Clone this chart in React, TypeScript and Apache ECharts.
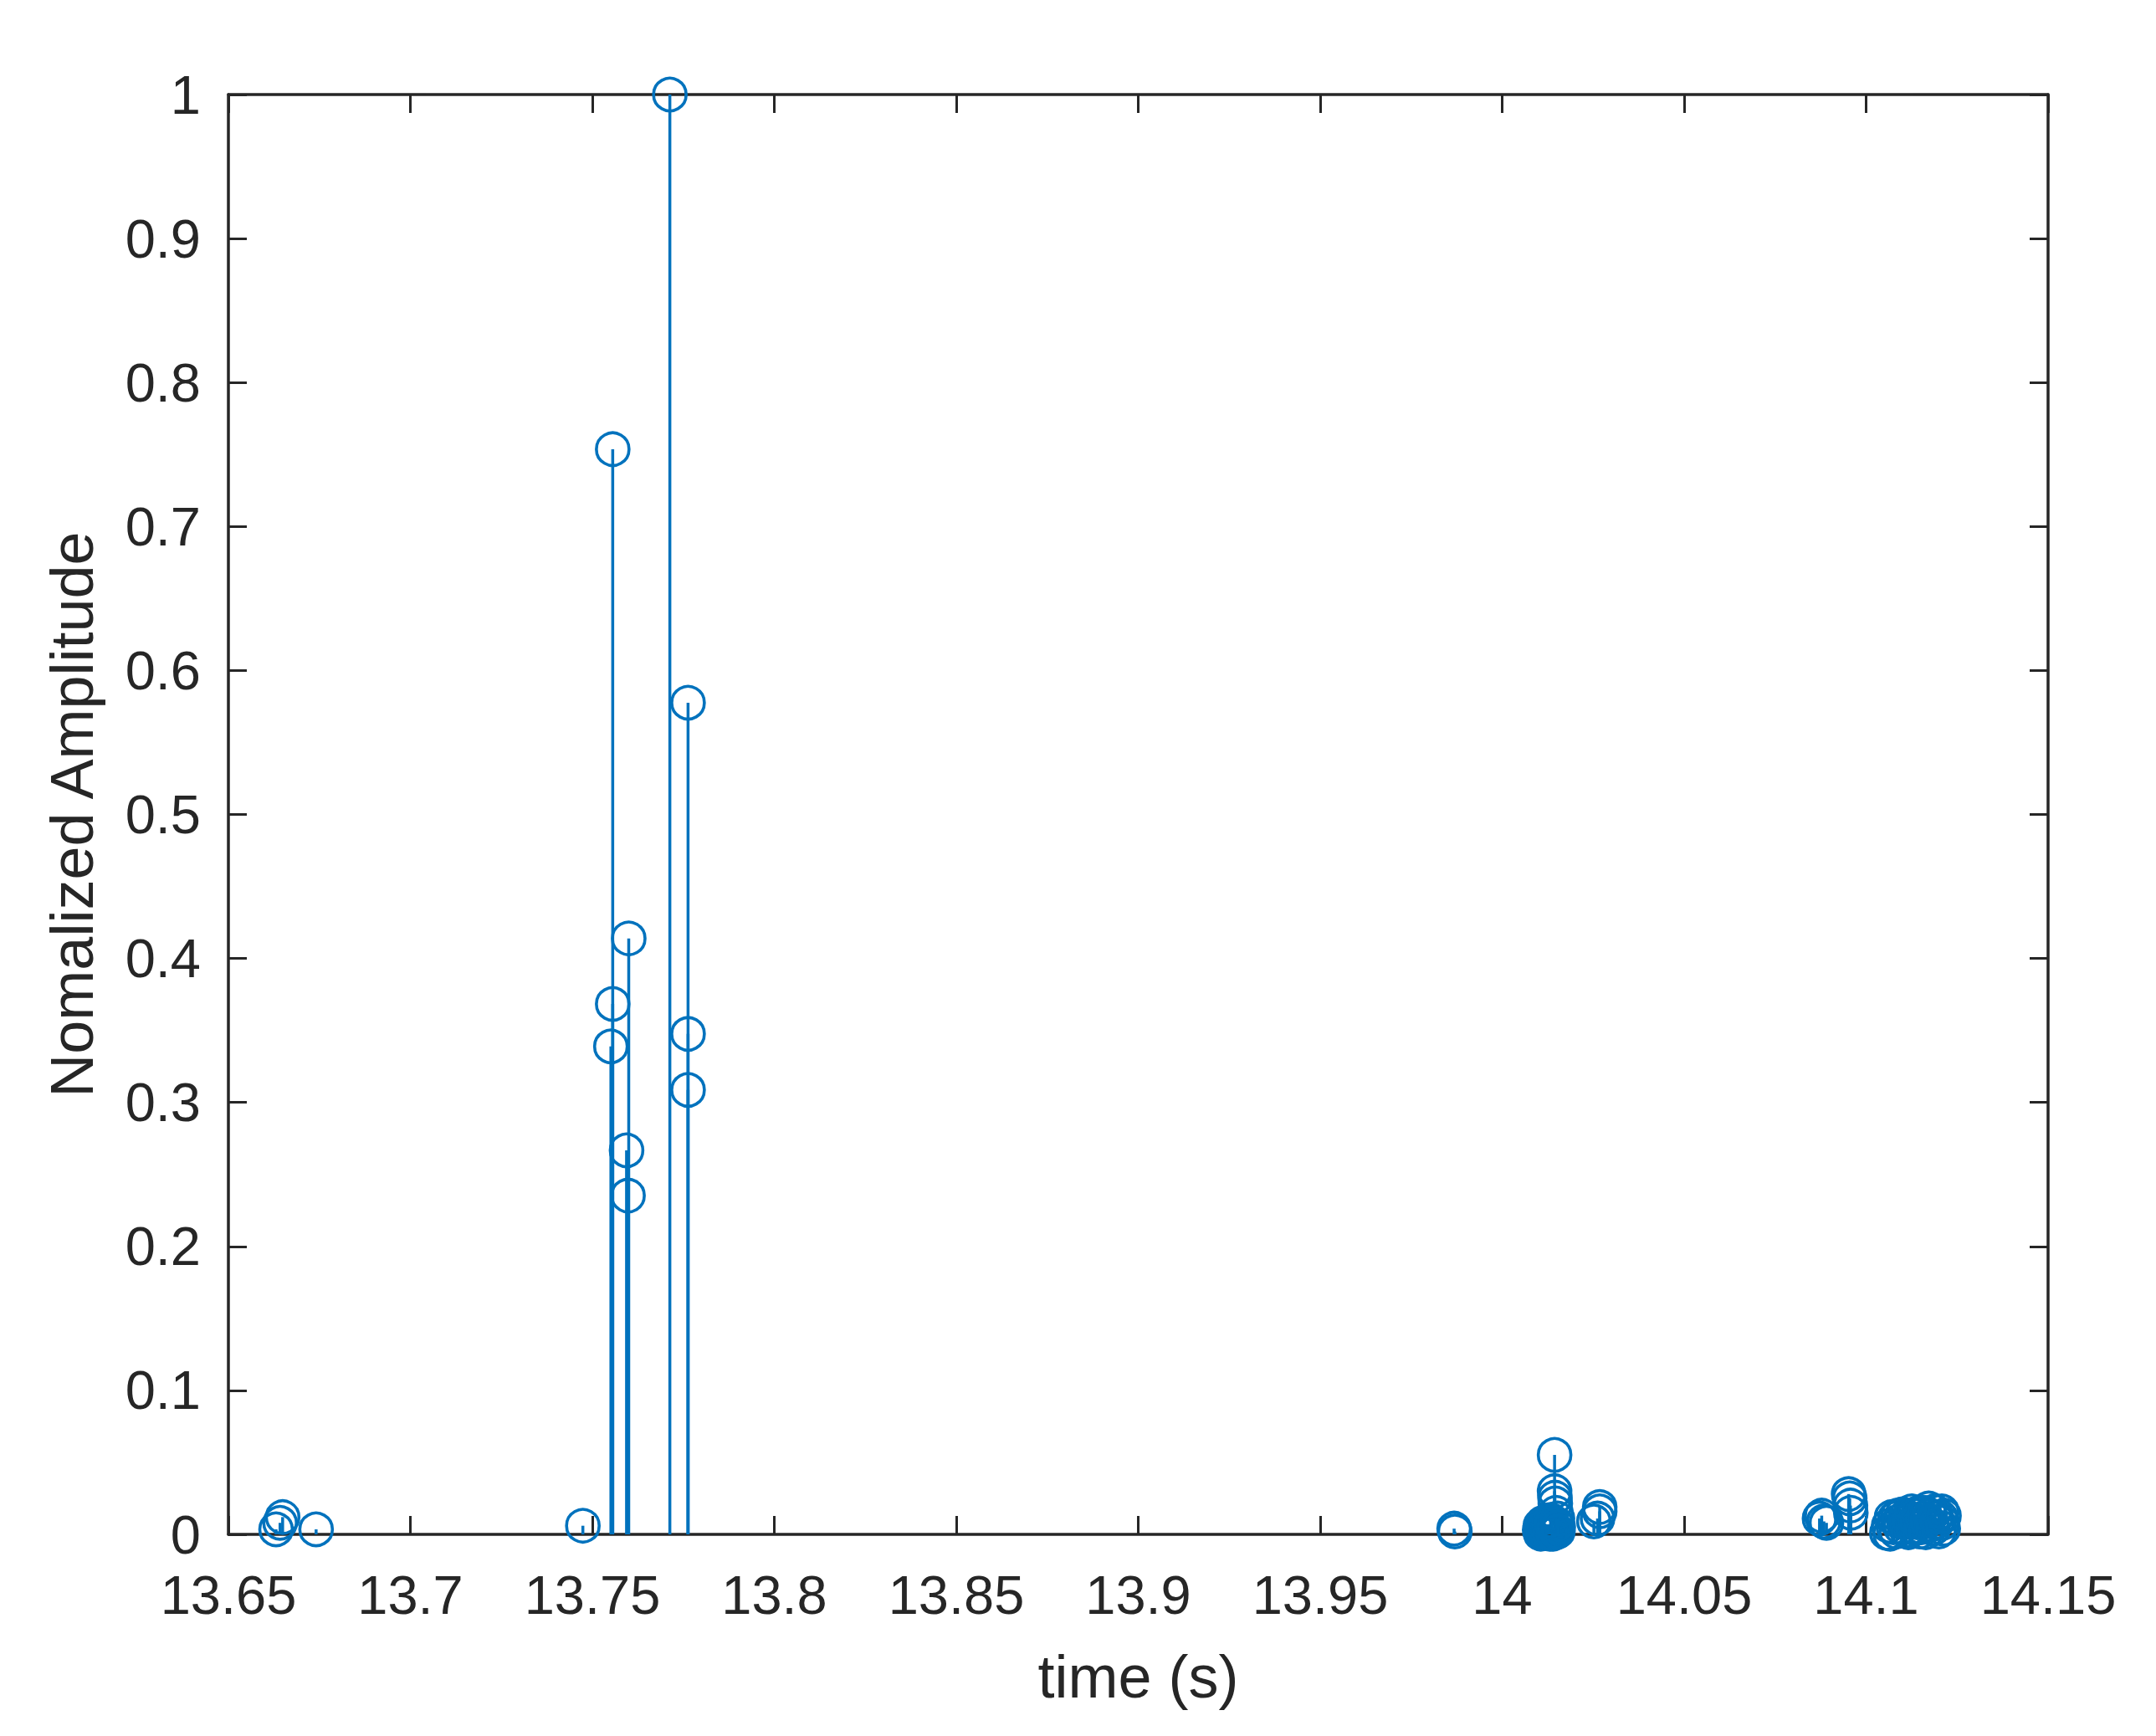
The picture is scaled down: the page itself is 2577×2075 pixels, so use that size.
import React, { useEffect, useRef } from "react";
import * as echarts from "echarts";

// Stem data: time (s) and normalized amplitude
const times: number[] = [
  13.6631, 13.6642, 13.6649, 13.6741,
  13.7474,
  13.7551, 13.7556, 13.7594, 13.7598, 13.76, 13.7556,
  13.7713, 13.7763, 13.7763, 13.7763,
  13.9868, 13.987,
  14.0103, 14.0105, 14.0106, 14.0108, 14.011, 14.0112, 14.0113, 14.0116, 14.0118, 14.0119,
  14.0121, 14.0122, 14.0124, 14.0126, 14.0128, 14.0129, 14.0131, 14.0133, 14.0134, 14.0136,
  14.0137, 14.0139, 14.014, 14.0142,
  14.0144, 14.0144, 14.0145, 14.0146, 14.0148, 14.0149, 14.0151, 14.0152, 14.0153, 14.0154,
  14.0252, 14.0262, 14.0268, 14.0268,
  14.0872, 14.0878, 14.0884, 14.0891,
  14.0952, 14.0955, 14.0957, 14.0958,
  14.1057, 14.1062, 14.1066, 14.107, 14.1075, 14.1079, 14.1083, 14.1087, 14.109, 14.1095,
  14.11, 14.1104, 14.1108, 14.1112, 14.1116, 14.112, 14.1125, 14.1129, 14.1132, 14.1135,
  14.114, 14.1144, 14.1148, 14.1152, 14.1156, 14.116, 14.1164, 14.1168, 14.1172, 14.1176,
  14.118, 14.1184, 14.1188, 14.1192, 14.1196, 14.12, 14.1204, 14.1208, 14.121, 14.1212, 14.1214,
];
const amps: number[] = [
  0.0035, 0.008, 0.012, 0.0035,
  0.006,
  0.3389, 0.3684, 0.2667, 0.2353, 0.4139, 0.7537,
  1.0, 0.5776, 0.3476, 0.3087,
  0.004, 0.002,
  0.003, 0.006, 0.0005, 0.002, 0.005, 0.008, 0.001, 0.006, 0.004, 0.0015,
  0.007, 0.001, 0.004, 0.002, 0.007, 0.0045, 0.0005, 0.01, 0.006, 0.003,
  0.008, 0.002, 0.0005, 0.004,
  0.0552, 0.03, 0.0255, 0.0215, 0.015, 0.0015, 0.007, 0.011, 0.002, 0.005,
  0.009, 0.011, 0.016, 0.019,
  0.011, 0.013, 0.009, 0.008,
  0.028, 0.025, 0.02, 0.015,
  0.001, 0.006, 0.0005, 0.012, 0.005, 0.011, 0.002, 0.013, 0.009, 0.005,
  0.014, 0.0085, 0.012, 0.003, 0.0015, 0.0095, 0.016, 0.005, 0.013, 0.01,
  0.0085, 0.015, 0.002, 0.005, 0.011, 0.015, 0.0015, 0.0095, 0.018, 0.013,
  0.007, 0.004, 0.016, 0.012, 0.009, 0.002, 0.012, 0.016, 0.008, 0.004, 0.013,
];

const xMin = 13.65;
const xMax = 14.15;
const xStep = 0.05;
const yMin = 0;
const yMax = 1;
const yStep = 0.1;

const xTitle = "time (s)";
const yTitle = "Nomalized Amplitude";

const BLUE = "#0072BD";
const INK = "#262626";
const FONT = "'Liberation Sans', Arial, Helvetica, sans-serif";

export default function App() {
  const ref = useRef<HTMLDivElement>(null);

  useEffect(() => {
    if (!ref.current) return;
    const chart = echarts.init(ref.current, undefined, { renderer: "svg" });

    const axisLine = { show: true, onZero: false, lineStyle: { color: INK, width: 3.5 } };
    const tick = { show: true, inside: true, length: 22, lineStyle: { color: INK, width: 3 } };

    const data = times.map((t, i) => [t, amps[i]]);

    chart.setOption({
      animation: false,
      backgroundColor: "#ffffff",
      grid: { left: 273, top: 113, right: 129, bottom: 241, containLabel: false },
      xAxis: [
        {
          type: "value",
          position: "bottom",
          min: xMin,
          max: xMax,
          interval: xStep,
          axisLine,
          axisTick: tick,
          splitLine: { show: false },
          axisLabel: {
            color: INK,
            fontSize: 65,
            fontFamily: FONT,
            margin: 40,
            formatter: (v: number) => String(parseFloat(v.toFixed(2))),
          },
          name: xTitle,
          nameLocation: "middle",
          nameGap: 134,
          nameTextStyle: { color: INK, fontSize: 72, fontFamily: FONT },
        },
        {
          type: "value",
          position: "top",
          min: xMin,
          max: xMax,
          interval: xStep,
          axisLine,
          axisTick: tick,
          axisLabel: { show: false },
          splitLine: { show: false },
        },
      ],
      yAxis: [
        {
          type: "value",
          position: "left",
          min: yMin,
          max: yMax,
          interval: yStep,
          axisLine,
          axisTick: tick,
          splitLine: { show: false },
          axisLabel: {
            color: INK,
            fontSize: 65,
            fontFamily: FONT,
            margin: 33,
            formatter: (v: number) => String(parseFloat(v.toFixed(1))),
          },
          name: yTitle,
          nameLocation: "middle",
          nameGap: 151,
          nameTextStyle: { color: INK, fontSize: 72, fontFamily: FONT },
        },
        {
          type: "value",
          position: "right",
          min: yMin,
          max: yMax,
          interval: yStep,
          axisLine,
          axisTick: tick,
          axisLabel: { show: false },
          splitLine: { show: false },
        },
      ],
      series: [
        {
          type: "custom",
          coordinateSystem: "cartesian2d",
          xAxisIndex: 0,
          yAxisIndex: 0,
          clip: false,
          encode: { x: 0, y: 1 },
          data,
          renderItem: (_params: any, api: any) => {
            const p = api.coord([api.value(0), api.value(1)]);
            const b = api.coord([api.value(0), 0]);
            return {
              type: "group",
              children: [
                {
                  type: "line",
                  shape: { x1: b[0], y1: b[1], x2: p[0], y2: p[1] },
                  style: { stroke: BLUE, lineWidth: 3.5 },
                },
                {
                  type: "circle",
                  shape: { cx: p[0], cy: p[1], r: 19.5 },
                  style: { fill: "none", stroke: BLUE, lineWidth: 3.6 },
                },
              ],
            };
          },
        },
      ],
    });

    return () => chart.dispose();
  }, []);

  return (
    <div
      ref={ref}
      style={{ position: "absolute", left: 0, top: 0, width: 2577, height: 2075, background: "#fff" }}
    />
  );
}
